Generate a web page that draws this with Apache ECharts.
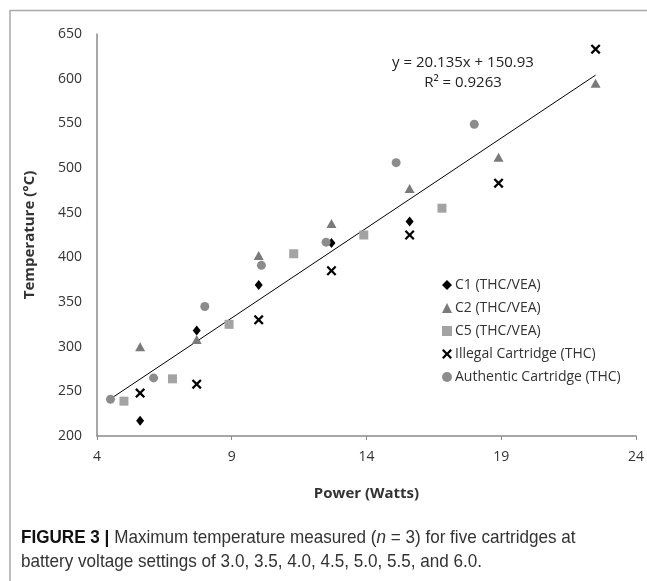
<!DOCTYPE html>
<html>
<head>
<meta charset="utf-8">
<script src="https://cdn.jsdelivr.net/npm/echarts@6/dist/echarts.min.js"></script>
<style>
html,body{margin:0;padding:0;background:#fff;}
#chart{width:647px;height:581px;}
</style>
</head>
<body>
<div id="chart"></div>
<script>
// ---- data ----
const seriesNames = ['C1 (THC/VEA)', 'C2 (THC/VEA)', 'C5 (THC/VEA)', 'Illegal Cartridge (THC)', 'Authentic Cartridge (THC)'];
const c1 = [[5.6, 217], [7.7, 318], [10.0, 369], [12.7, 416], [15.6, 440]];
const c2 = [[5.6, 300], [7.7, 308], [10.0, 402], [12.7, 438], [15.6, 477], [18.9, 512], [22.5, 595]];
const c5 = [[5.0, 239], [6.8, 264], [8.9, 325], [11.3, 404], [13.9, 425], [16.8, 455]];
const illegal = [[5.6, 248], [7.7, 258], [10.0, 330], [12.7, 385], [15.6, 425], [18.9, 483], [22.5, 633]];
const authentic = [[4.5, 241], [6.1, 265], [8.0, 345], [10.1, 391], [12.5, 417], [15.1, 506], [18.0, 549]];
const trendSlope = 20.135;
const trendIntercept = 150.93;
const rSquared = 0.9263;
const xTicks = [4, 9, 14, 19, 24];
const yTicks = [200, 250, 300, 350, 400, 450, 500, 550, 600, 650];

// trendline endpoints from the regression over the data's x range
const allX = [].concat(c1, c2, c5, illegal, authentic).map(p => p[0]);
const xLo = Math.min.apply(null, allX), xHi = Math.max.apply(null, allX);
const trend = [[xLo, trendSlope * xLo + trendIntercept], [xHi, trendSlope * xHi + trendIntercept]];

const xSym = 'path://M0,1.6 L1.6,0 L5,3.4 L8.4,0 L10,1.6 L6.6,5 L10,8.4 L8.4,10 L5,6.6 L1.6,10 L0,8.4 L3.4,5 Z';
const tickFont = '"Open Sans", "Noto Sans", sans-serif';
const capFont = '"Liberation Sans", Arial, sans-serif';

const chart = echarts.init(document.getElementById('chart'), null, {renderer: 'canvas'});
const mk = (name, data, symbol, size, color) => ({
  name, type: 'scatter', data, symbol, symbolSize: size,
  itemStyle: {color: color, opacity: 1}, z: 3
});
chart.setOption({
  animation: false,
  backgroundColor: '#fff',
  grid: {left: 97, right: 9, top: 34, bottom: 145, containLabel: false},
  xAxis: {
    type: 'value', min: 4, max: 24, interval: 5,
    name: 'Power (Watts)', nameLocation: 'middle', nameGap: 50,
    nameTextStyle: {fontFamily: tickFont, fontWeight: 'bold', fontSize: 15, color: '#333'},
    axisLine: {lineStyle: {color: '#8a8a8a', width: 1.5}},
    axisTick: {show: true, length: 4, lineStyle: {color: '#8a8a8a'}},
    axisLabel: {fontFamily: tickFont, fontSize: 14, color: '#333', margin: 14},
    splitLine: {show: false}
  },
  yAxis: {
    type: 'value', min: 200, max: 650, interval: 50,
    name: 'Temperature (°C)', nameLocation: 'middle', nameGap: 60,
    nameTextStyle: {fontFamily: tickFont, fontWeight: 'bold', fontSize: 15, color: '#333'},
    axisLine: {show: true, lineStyle: {color: '#8a8a8a', width: 1.5}},
    axisTick: {show: false},
    axisLabel: {fontFamily: tickFont, fontSize: 14, color: '#333', margin: 15},
    splitLine: {show: false}
  },
  legend: {
    orient: 'vertical', left: 437, top: 273, itemGap: 9, itemWidth: 10, itemHeight: 10,
    data: [
      {name: seriesNames[0], icon: 'diamond'},
      {name: seriesNames[1], icon: 'triangle'},
      {name: seriesNames[2], icon: 'rect'},
      {name: seriesNames[3], icon: xSym},
      {name: seriesNames[4], icon: 'circle'}
    ],
    textStyle: {fontFamily: tickFont, fontSize: 14, color: '#333', padding: [0, 0, 0, -2]}
  },
  series: [
    mk(seriesNames[0], c1, 'diamond', [8, 10], '#000'),
    mk(seriesNames[1], c2, 'triangle', [10, 9], '#7a7a7a'),
    mk(seriesNames[2], c5, 'rect', 9, '#a3a3a3'),
    mk(seriesNames[3], illegal, xSym, 10, '#000'),
    mk(seriesNames[4], authentic, 'circle', 9, '#8c8c8c'),
    {
      name: 'trend', type: 'line', data: trend, symbol: 'none', silent: true,
      lineStyle: {color: '#000', width: 1}, z: 2
    }
  ],
  graphic: [
    {type: 'line', shape: {x1: 10, y1: 10.5, x2: 647, y2: 10.5}, style: {stroke: '#a8a8a8', lineWidth: 1.5}},
    {type: 'line', shape: {x1: 10, y1: 10, x2: 10, y2: 581}, style: {stroke: '#a8a8a8', lineWidth: 1.5}},
    {type: 'text', x: 463, y: 55, style: {
      text: 'y = ' + trendSlope + 'x + ' + trendIntercept,
      font: '15px ' + tickFont, fill: '#222', align: 'center', verticalAlign: 'top'
    }},
    {type: 'text', x: 463, y: 75, style: {
      text: 'R² = ' + rSquared,
      font: '15px ' + tickFont, fill: '#222', align: 'center', verticalAlign: 'top'
    }},
    {type: 'text', x: 21, y: 526, scaleX: 0.9, style: {
      text: '{b|FIGURE 3 |} Maximum temperature measured ({i|n} = 3) for five cartridges at\nbattery voltage settings of 3.0, 3.5, 4.0, 4.5, 5.0, 5.5, and 6.0.',
      font: '19px ' + capFont,
      fill: '#333', lineHeight: 24,
      rich: {
        b: {fontFamily: capFont, fontWeight: 'bold', fontSize: 19, fill: '#111'},
        i: {fontFamily: capFont, fontStyle: 'italic', fontSize: 19, fill: '#333'}
      }
    }}
  ]
});
</script>
</body>
</html>
